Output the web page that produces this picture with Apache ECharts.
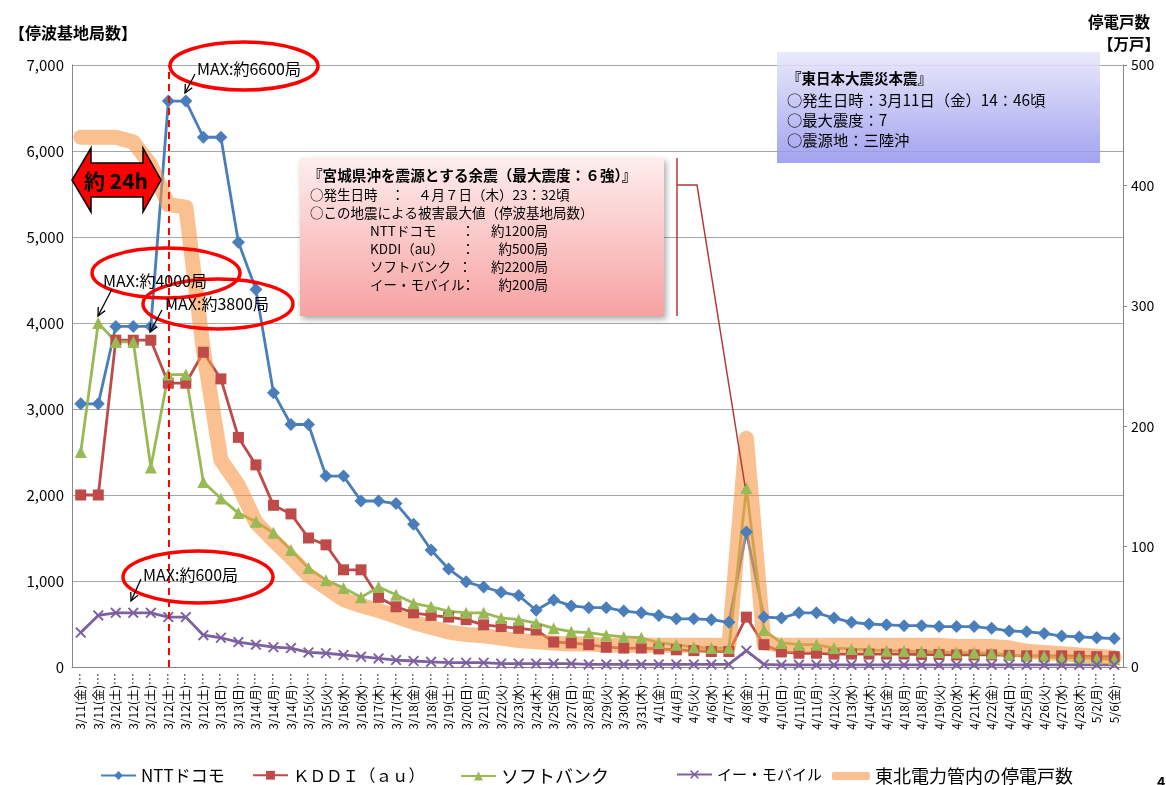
<!DOCTYPE html>
<html><head><meta charset="utf-8">
<script src="https://cdn.jsdelivr.net/npm/echarts@6/dist/echarts.min.js"></script>
<style>html,body{margin:0;padding:0;background:#fff}#c{width:1166px;height:785px}</style>
</head><body><div id="c"></div>
<script>
const categories = ["3/11(金)…","3/11(金)…","3/12(土)…","3/12(土)…","3/12(土)…","3/12(土)…","3/12(土)…","3/12(土)…","3/13(日)…","3/13(日)…","3/14(月)…","3/14(月)…","3/14(月)…","3/15(火)…","3/15(火)…","3/16(水)…","3/16(水)…","3/17(木)…","3/17(木)…","3/18(金)…","3/18(金)…","3/19(土)…","3/20(日)…","3/21(月)…","3/22(火)…","3/23(水)…","3/24(木)…","3/25(金)…","3/27(日)…","3/28(月)…","3/29(火)…","3/30(水)…","3/31(木)…","4/1(金)…","4/4(月)…","4/5(火)…","4/6(水)…","4/7(木)…","4/8(金)…","4/9(土)…","4/10(日)…","4/11(月)…","4/11(月)…","4/12(火)…","4/13(水)…","4/14(木)…","4/15(金)…","4/18(月)…","4/18(月)…","4/19(火)…","4/20(水)…","4/21(木)…","4/22(金)…","4/24(日)…","4/25(月)…","4/26(火)…","4/27(水)…","4/28(木)…","5/2(月)…","5/6(金)…"];
const seriesNames = ["NTTドコモ","ＫＤＤＩ（ａｕ）","ソフトバンク","イー・モバイル","東北電力管内の停電戸数"];
const nttDocomo = [3060,3060,3960,3960,3960,6580,6580,6160,6160,4940,4390,3190,2820,2820,2220,2220,1930,1930,1900,1660,1360,1140,990,930,870,830,660,780,710,690,690,650,630,600,560,560,550,520,1570,580,570,630,630,570,520,500,490,480,480,470,470,470,450,420,410,390,360,350,340,330];
const kddiAu = [2000,2000,3800,3800,3800,3300,3300,3660,3350,2670,2350,1880,1780,1500,1420,1130,1130,810,700,630,600,580,550,490,470,450,430,290,280,260,230,220,220,210,200,190,180,180,580,260,175,160,160,150,150,150,150,150,145,145,140,140,140,135,130,130,130,125,120,120];
const softbank = [2500,4000,3780,3780,2320,3400,3400,2150,1960,1790,1690,1560,1360,1150,1010,920,810,930,840,740,700,650,630,630,570,550,510,450,410,400,370,350,340,280,260,230,220,220,2080,430,280,260,260,220,210,200,190,185,180,175,170,165,160,140,130,125,105,105,100,90];
const eMobile = [400,600,630,630,630,580,580,370,340,290,260,230,220,170,160,140,120,100,80,70,60,50,50,50,40,40,40,40,40,30,30,30,30,30,30,30,30,30,190,30,25,25,25,25,25,25,25,25,25,25,25,25,25,25,25,25,25,25,25,25];
const outageHouseholds = [440,440,440,436,417,384,382,263,172,151,120,105,91,76,66,56,51,47,42,37,33,29,27,26,24,22,21,20,19,19,18,18,18,18,18,18,18,18,190,20,18,18,18,18,18,18,18,18,18,18,17,17,17,16,13,12,11,10,9,8];
const leftTicks = [0,1000,2000,3000,4000,5000,6000,7000];
const rightTicks = [0,100,200,300,400,500];

const FONT = '"Noto Sans CJK JP", "Noto Sans", sans-serif';
const chart = echarts.init(document.getElementById('c'), null, {renderer:'canvas'});

const xMark = 'path://M0,1.2 L1.2,0 L5,3.8 L8.8,0 L10,1.2 L6.2,5 L10,8.8 L8.8,10 L5,6.2 L1.2,10 L0,8.8 L3.8,5 Z';

function txt(x, y, s, size, opts) {
  opts = opts || {};
  return {type:'text', x:x, y:y, z:100, style:{text:s, fill:opts.fill||'#000',
    font:(opts.bold?'bold ':'')+size+'px '+FONT, align:opts.align||'left', verticalAlign:'middle'}};
}
function arrow(x1,y1,x2,y2) {
  const a = Math.atan2(y2-y1, x2-x1), L = 9, w = 0.45;
  const p1 = [x2 - L*Math.cos(a-w), y2 - L*Math.sin(a-w)];
  const p2 = [x2 - L*Math.cos(a+w), y2 - L*Math.sin(a+w)];
  return [
    {type:'polyline', z:100, shape:{points:[[x1,y1],[x2,y2]]}, style:{stroke:'#000', lineWidth:1.3, fill:null}},
    {type:'polyline', z:100, shape:{points:[p1,[x2,y2],p2]}, style:{stroke:'#000', lineWidth:1.3, fill:null}}
  ];
}
function ellipse(cx,cy,rx,ry){
  return {type:'ellipse', z:99, shape:{cx:cx,cy:cy,rx:rx,ry:ry}, style:{fill:null, stroke:'#FF0000', lineWidth:3.5}};
}

const graphics = [
  txt(9, 33, '【停波基地局数】', 16, {bold:true}),
  txt(1088, 22, '停電戸数', 15.5, {bold:true}),
  txt(1098, 44, '【万戸】', 15.5, {bold:true}),
  // 24h double arrow
  {type:'polygon', z:98, shape:{points:[[72,180],[91,148],[91,163],[143,163],[143,148],[161,180],[143,212],[143,197],[91,197],[91,212]]},
    style:{fill:'#FF0000', stroke:'#000', lineWidth:1.5}},
  txt(116, 181, '約 24h', 21, {bold:true, align:'center'}),
  // MAX annotations
  ellipse(244,66,74,24),
  txt(197, 69, 'MAX:約6600局', 16),
  ...arrow(195,74,185,93),
  ellipse(166,273,74,25),
  txt(103, 281, 'MAX:約4000局', 16),
  ...arrow(112,289,98,316),
  ellipse(218,304,75,25),
  txt(165, 304, 'MAX:約3800局', 16),
  ...arrow(162,310,150,332),
  ellipse(198,577,75,26),
  txt(143, 575, 'MAX:約600局', 16),
  ...arrow(141,579,131,601),
  // aftershock box
  {type:'rect', z:97, shape:{x:300,y:158,width:364,height:158},
    style:{fill:new echarts.graphic.LinearGradient(0,0,0,1,[{offset:0,color:'#FEEDED'},{offset:1,color:'#F7A2A2'}]),
      shadowBlur:6, shadowOffsetX:2, shadowOffsetY:3, shadowColor:'rgba(0,0,0,0.35)'}},
  txt(308, 175, '『宮城県沖を震源とする余震（最大震度：６強）』', 14.6, {bold:true}),
  txt(310, 195, '○発生日時　：　４月７日（木）23：32頃', 13.5),
  txt(310, 213, '○この地震による被害最大値（停波基地局数）', 13.5),
  txt(370, 231, 'NTTドコモ', 13.5), txt(468, 231, '：', 13.5, {align:'center'}), txt(548, 231, '約1200局', 13.5, {align:'right'}),
  txt(370, 249, 'KDDI（au）', 13.5), txt(468, 249, '：', 13.5, {align:'center'}), txt(548, 249, '約500局', 13.5, {align:'right'}),
  txt(370, 267, 'ソフトバンク', 13.5), txt(465, 267, '：', 13.5, {align:'center'}), txt(548, 267, '約2200局', 13.5, {align:'right'}),
  txt(370, 285, 'イー・モバイル', 13.5), txt(468, 285, '：', 13.5, {align:'center'}), txt(548, 285, '約200局', 13.5, {align:'right'}),
  // callout line
  {type:'polyline', z:96, shape:{points:[[677,158],[677,316]]}, style:{stroke:'#B03A3A', lineWidth:1.5, fill:null}},
  {type:'polyline', z:96, shape:{points:[[677,185],[697,185],[745,486]]}, style:{stroke:'#B03A3A', lineWidth:1.5, fill:null}},
  // main quake box
  {type:'rect', z:97, shape:{x:777,y:52,width:323,height:111},
    style:{opacity:0.85, fill:new echarts.graphic.LinearGradient(0,0,0,1,[{offset:0,color:'#E6E6FB'},{offset:1,color:'#9393EE'}])}},
  txt(787, 78, '『東日本大震災本震』', 14.5, {bold:true}),
  txt(787, 100, '○発生日時：3月11日（金）14：46頃', 15.3),
  txt(787, 120, '○最大震度：7', 15.3),
  txt(787, 140, '○震源地：三陸沖', 15.3),
  txt(1157, 782, '4', 14, {bold:true})
];

function legendAt(i, left, fs, opts) {
  opts = opts || {};
  const item = {name:seriesNames[i]};
  if (opts.icon) {
    item.icon = opts.icon;
    item.itemStyle = {color:'#FAC090', opacity:1};
  }
  return {top:opts.top||767, left:left, padding:0, itemWidth:opts.w||35, itemHeight:opts.h||11, itemGap:4,
    textStyle:{fontSize:fs, color:'#000', fontFamily:FONT}, data:[item]};
}

const lineCommon = {type:'line', yAxisIndex:0, lineStyle:{width:2.8}};
const option = {
  animation:false,
  textStyle:{fontFamily:FONT},
  grid:{left:72, right:43, top:65, bottom:118, containLabel:false},
  legend:[
    legendAt(0, 100, 17),
    legendAt(1, 252, 16.5),
    legendAt(2, 460, 18),
    legendAt(3, 676, 15),
    legendAt(4, 832, 18, {icon:'roundRect', w:38, h:8})
  ],
  xAxis:{type:'category', data:categories, boundaryGap:true,
    axisLine:{lineStyle:{color:'#868686'}}, axisTick:{show:false},
    axisLabel:{rotate:90, interval:0, fontSize:12, color:'#000', margin:6, fontFamily:FONT}},
  yAxis:[
    {type:'value', min:leftTicks[0], max:leftTicks[leftTicks.length-1], interval:1000,
      axisLine:{show:true, lineStyle:{color:'#868686'}}, axisTick:{show:false},
      axisLabel:{fontSize:15, color:'#000', margin:8, formatter:v=>v.toLocaleString('en-US')},
      splitLine:{lineStyle:{color:'#A6A6A6', width:1.2}}},
    {type:'value', position:'right', min:rightTicks[0], max:rightTicks[rightTicks.length-1], interval:100,
      axisLine:{show:true, lineStyle:{color:'#868686'}}, axisTick:{show:true, inside:false, length:4, lineStyle:{color:'#868686'}},
      axisLabel:{fontSize:14, color:'#000', margin:8}, splitLine:{show:false}}
  ],
  series:[
    Object.assign({}, lineCommon, {name:seriesNames[0], data:nttDocomo, symbol:'diamond', symbolSize:13,
      itemStyle:{color:'#4A7EBB'}, lineStyle:{width:2.8, color:'#4A7EBB'},
      markLine:{silent:true, symbol:'none', label:{show:false},
        lineStyle:{color:'#FF0000', type:[7,5], width:2}, data:[{xAxis:5}]}}),
    Object.assign({}, lineCommon, {name:seriesNames[1], data:kddiAu, symbol:'rect', symbolSize:11,
      itemStyle:{color:'#BE4B48'}, lineStyle:{width:2.8, color:'#BE4B48'}}),
    Object.assign({}, lineCommon, {name:seriesNames[2], data:softbank, symbol:'triangle', symbolSize:12,
      itemStyle:{color:'#98B954'}, lineStyle:{width:2.8, color:'#98B954'}}),
    Object.assign({}, lineCommon, {name:seriesNames[3], data:eMobile, symbol:xMark, symbolSize:11,
      itemStyle:{color:'#7D60A0'}, lineStyle:{width:2.8, color:'#7D60A0'}}),
    {type:'line', name:seriesNames[4], yAxisIndex:1, data:outageHouseholds, symbol:'none', z:3,
      itemStyle:{color:'#F79646'},
      lineStyle:{width:15, color:'#F79646', opacity:0.6, cap:'round', join:'round'}}
  ],
  graphic:graphics
};
chart.setOption(option);
</script></body></html>
